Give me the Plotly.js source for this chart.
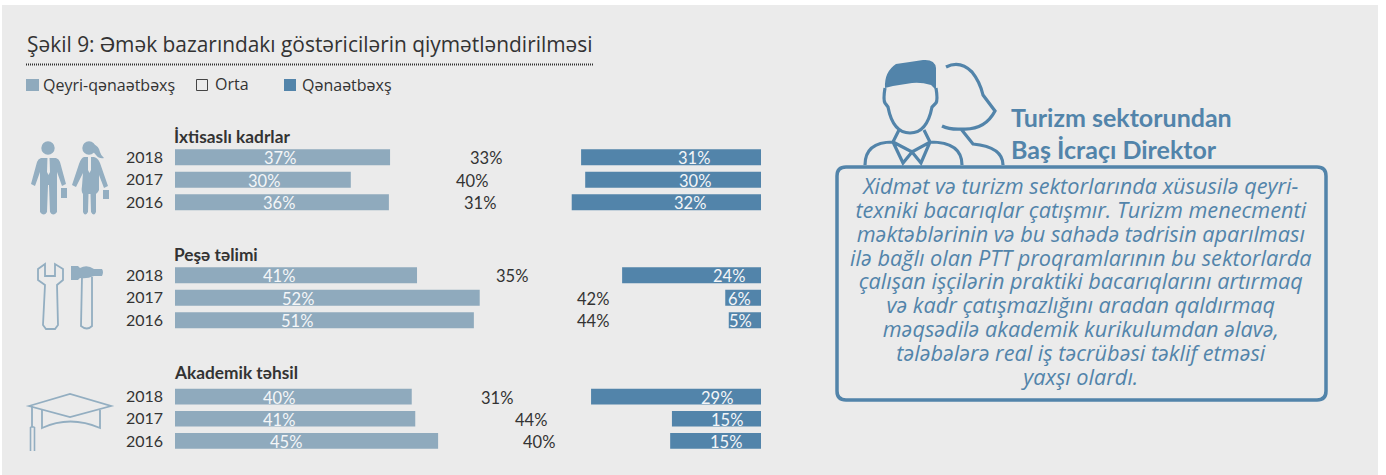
<!DOCTYPE html>
<html><head><meta charset="utf-8">
<script src="https://cdn.plot.ly/plotly-3.0.1.min.js"></script>
<style>html,body{margin:0;padding:0;background:#fff}#c{width:1386px;height:475px}</style>
</head><body><div id="c"></div>
<script>
const years = ['2018','2017','2016'];
const groupNames = ['İxtisaslı kadrlar','Peşə təlimi','Akademik təhsil'];
const qeyriLabels = [37,30,36, 41,52,51, 40,41,45];
const ortaLabels = [33,40,31, 35,42,44, 31,44,40];
const qenaetLabels = [31,30,32, 24,6,5, 29,15,15];
const qeyriLengths = [36.7,30,36.5, 41.3,52,51, 40.4,41,44.9];
const qenaetLengths = [30.7,30,32.3, 23.7,6.1,5.5, 29,15.2,15.5];
const legendNames = ['Qeyri-qənaətbəxş','Orta','Qənaətbəxş'];
const titleText = 'Şəkil 9: Əmək bazarındakı göstəricilərin qiymətləndirilməsi';
const headingLines = ['Turizm sektorundan','Baş İcraçı Direktor'];
const bodyLines = ['Xidmət və turizm sektorlarında xüsusilə qeyri-','texniki bacarıqlar çatışmır. Turizm menecmenti','məktəblərinin və bu sahədə tədrisin aparılması','ilə bağlı olan PTT proqramlarının bu sektorlarda','çalışan işçilərin praktiki bacarıqlarını artırmaq','və kadr çatışmazlığını aradan qaldırmaq','məqsədilə akademik kurikulumdan əlavə,','tələbələrə real iş təcrübəsi təklif etməsi','yaxşı olardı.'];

// layout-only values
const W=1386,H=475,FONT='Lato, "Open Sans", sans-serif',FONT2='"Open Sans", Lato, sans-serif';
const C_L='#8faabd',C_R='#5284aa',C_T='#333333',C_BG='#ebebeb',C_I='#93aec1',C_W='#f4f6f8';
const ortaNudge=[-0.1,0.7,0,-1.3,-1.7,-1.7,-0.9,-2.2,-2.7];
const qeyriShift=[-2.5,1,-3,-17,-29.5,-27.5,-14.5,-16,-20.5];
const qenaetShift=[22.7,22,23.2,37.5,-3.7,-4.5,41,10.2,10.2];
const bandTops=[146,264,385.5];
const bandHs=[67.5,67.5,66.5];
const px=x=>x/W, py=y=>1-y/H;
const conv=p=>p.replace(/(-?[\d.]+)[ ,](-?[\d.]+)/g,(m,a,b)=>px(+a).toFixed(5)+','+py(+b).toFixed(5));

const traces=[];
const layout={
  width:W,height:H,margin:{l:0,r:0,t:0,b:0,pad:0,autoexpand:false},
  paper_bgcolor:'#ffffff',plot_bgcolor:'rgba(0,0,0,0)',showlegend:false,hovermode:false,
  font:{family:FONT,color:C_T},barmode:'overlay',bargap:0.29,
  xaxis:{domain:[px(175),px(761)],range:[0,100],visible:false,fixedrange:true},
  shapes:[],annotations:[]
};
groupNames.forEach((g,i)=>{
  const yn=i?'y'+(i+1):'y', yk=i?'yaxis'+(i+1):'yaxis';
  layout[yk]={domain:[py(bandTops[i]+bandHs[i]),py(bandTops[i])],type:'category',categoryorder:'array',categoryarray:years,
    range:[2.5,-0.5],anchor:'x',showgrid:false,zeroline:false,showline:false,ticks:'',ticklabelstandoff:11,fixedrange:true,
    tickfont:{family:FONT,size:16,color:C_T}};
  const s=i*3, L=qeyriLengths.slice(s,s+3), R=qenaetLengths.slice(s,s+3), O=ortaLabels.slice(s,s+3);
  traces.push({type:'bar',orientation:'h',yaxis:yn,y:years,x:L,base:[0,0,0],marker:{color:C_L,line:{width:0}}});
  traces.push({type:'bar',orientation:'h',yaxis:yn,y:years,x:R,base:R.map(v=>100-v),marker:{color:C_R,line:{width:0}}});
  const lab=(t,x,k,col,xs)=>layout.annotations.push({xref:'x',yref:yn,x,y:k,xanchor:'center',yanchor:'middle',xshift:xs||0,yshift:-1,showarrow:false,
    text:t+'%',font:{family:FONT,size:16.5,color:col}});
  O.forEach((v,k)=>{
    lab(qeyriLabels[s+k],L[k]/2,k,C_W,qeyriShift[s+k]);
    lab(v,L[k]+v/2+ortaNudge[s+k],k,C_T);
    lab(qenaetLabels[s+k],100-R[k]/2,k,C_W,qenaetShift[s+k]);
  });
  layout.annotations.push({xref:'paper',yref:'paper',x:px(171.5),y:py([136,254,372][i]),xanchor:'left',yanchor:'middle',showarrow:false,
    text:'<b>'+g+'</b>',font:{family:FONT,size:17.3,color:C_T}});
});
const note=(t,x,y,size,color,anchor,font)=>layout.annotations.push({xref:'paper',yref:'paper',x:px(x),y:py(y),xanchor:anchor||'left',yanchor:'middle',showarrow:false,text:t,font:{family:font||FONT,size,color}});
note(titleText,24.5,44,20.9,C_T,'left',FONT2);
note(legendNames[0],41,85,16,C_T,'left',FONT2);
note(legendNames[1],213,84,16,C_T,'left',FONT2);
note(legendNames[2],300,85,16,C_T,'left',FONT2);
headingLines.forEach((t,i)=>note('<b>'+t+'</b>',1009,[117,149][i],25,C_R));
note(bodyLines.map(t=>'<span style="font-size:21.7px"><i>'+t+'</i></span>').join('<br>'),1081,281.4,18.35,C_R,'center',FONT2);

const rect=(x0,y0,x1,y1,fill,line,w,layer)=>layout.shapes.push({type:'rect',xref:'paper',yref:'paper',x0:px(x0),x1:px(x1),y0:py(y0),y1:py(y1),fillcolor:fill,line:{color:line||'rgba(0,0,0,0)',width:w||0},layer:layer||'below'});
const path=(d,fill,line,w,layer)=>layout.shapes.push({type:'path',xref:'paper',yref:'paper',path:conv(d),fillcolor:fill||'rgba(0,0,0,0)',line:{color:line||'rgba(0,0,0,0)',width:w||0},layer:layer||'above'});
const circ=(cx,cy,r,fill)=>layout.shapes.push({type:'circle',xref:'paper',yref:'paper',x0:px(cx-r),x1:px(cx+r),y0:py(cy-r),y1:py(cy+r),fillcolor:fill,line:{width:0},layer:'above'});

rect(2,5,1378,475,C_BG);
layout.shapes.push({type:'line',xref:'paper',yref:'paper',x0:px(26),x1:px(593),y0:py(64.5),y1:py(64.5),line:{color:'#333',width:2,dash:'1px,1px'},layer:'below'});
rect(26,79,39,91,C_L);
rect(196.5,79.5,207.5,90.5,'rgba(0,0,0,0)','#444',1);
rect(284,79,296,91,C_R);

// people icon
circ(48,148,6.7,C_I);
path('M41 158 L56 158 Q59 159 60 162 L66 184 L62 186 L57 172 L57 212 Q53 217 50 212 L49 185 L48 185 L47 212 Q44 217 40 212 L40 172 L35 186 L31 184 L37 162 Q38 159 41 158 Z',C_I);
path('M47.5 157 L49.5 157 L50 172 L48.5 175 L47 172 Z',C_BG);
rect(61,188,67,198,C_I,null,0,'above');
circ(89,148,6.7,C_I);
path('M93 144 Q99 146 100 152 Q101 156 104 158 Q99 159 96 155 Q93 152 92 150 Z',C_I);
path('M84 157 L94 157 Q98 158 100 163 L108 186 L104 188 L99 175 L99 190 Q98 193 96 194 L96 212 Q94 217 91 212 L90.5 194 L88.5 194 L88 212 Q85 217 83 212 L83 194 Q81 192 82 186 L83 173 L76 187 L72 185 L79 164 Q81 158 84 157 Z',C_I);
path('M88 157 L91 157 L91 170 L89.5 173 L88 170 Z',C_BG);
rect(103,190,109,199,C_I,null,0,'above');

// tools icon
path('M45 264 L45 276 L55 276 L55 264 L63 269 L63 280 L57 285 L58 325 L55 329 L46 329 L43 325 L45 285 L38 280 L38 269 Z',null,C_I,1.8);
path('M71 266 L78 266 L80 268 Q87 264 94 269 L102 269 Q104 272 102 276 L94 276 Q87 279 80 278 L78 280 L71 280 Z',C_I);
path('M82 277 L81 326 Q87 331 92 326 L92 277',null,C_I,1.8);

// cap icon
path('M29 406 L70 394 L111 406 L70 417 Z',null,C_I,1.8);
path('M42 410 L42 428 Q70 415 100 428 L100 410',null,C_I,1.8);
path('M32 406 L32 427',null,C_I,1.8);
path('M30.5 427 L30.5 451 M34.5 427 L34.5 451 M30.5 427 L34.5 427',null,C_I,1.6);

// executive icon
const S=3.2;
path('M885 88 Q884 72 896 64 Q910 62 923 60 Q935 59 936 68 L936 90 L931 85 Q921 82 912 83 L893 86 Z',C_R);
path('M885 88 Q883 100 885 103 L888 107 Q893 133 910 133 Q927 133 932 107 L936 103 Q938 100 936 88',null,C_R,S);
path('M865 165 Q865 142 893 142 L899 130 M893 142 L903 163 L912 152 L921 163 L930 142 L924 130 M893 142 L912 152 L930 142 Q962 142 962 165',null,C_R,S);
path('M946 67 Q960 60 972 72 Q980 82 983 95 L995 111 Q985 130 963 129 Q950 130 942 126 M961 129 L973 144 Q1003 147 1003 165',null,C_R,S);
// text box
path('M846 167 L1317 167 Q1326 167 1326 176 L1326 391 Q1326 400 1317 400 L846 400 Q837 400 837 391 L837 176 Q837 167 846 167 Z',null,C_R,3.5);

Plotly.newPlot('c',traces,layout,{staticPlot:true,displayModeBar:false});
</script></body></html>
